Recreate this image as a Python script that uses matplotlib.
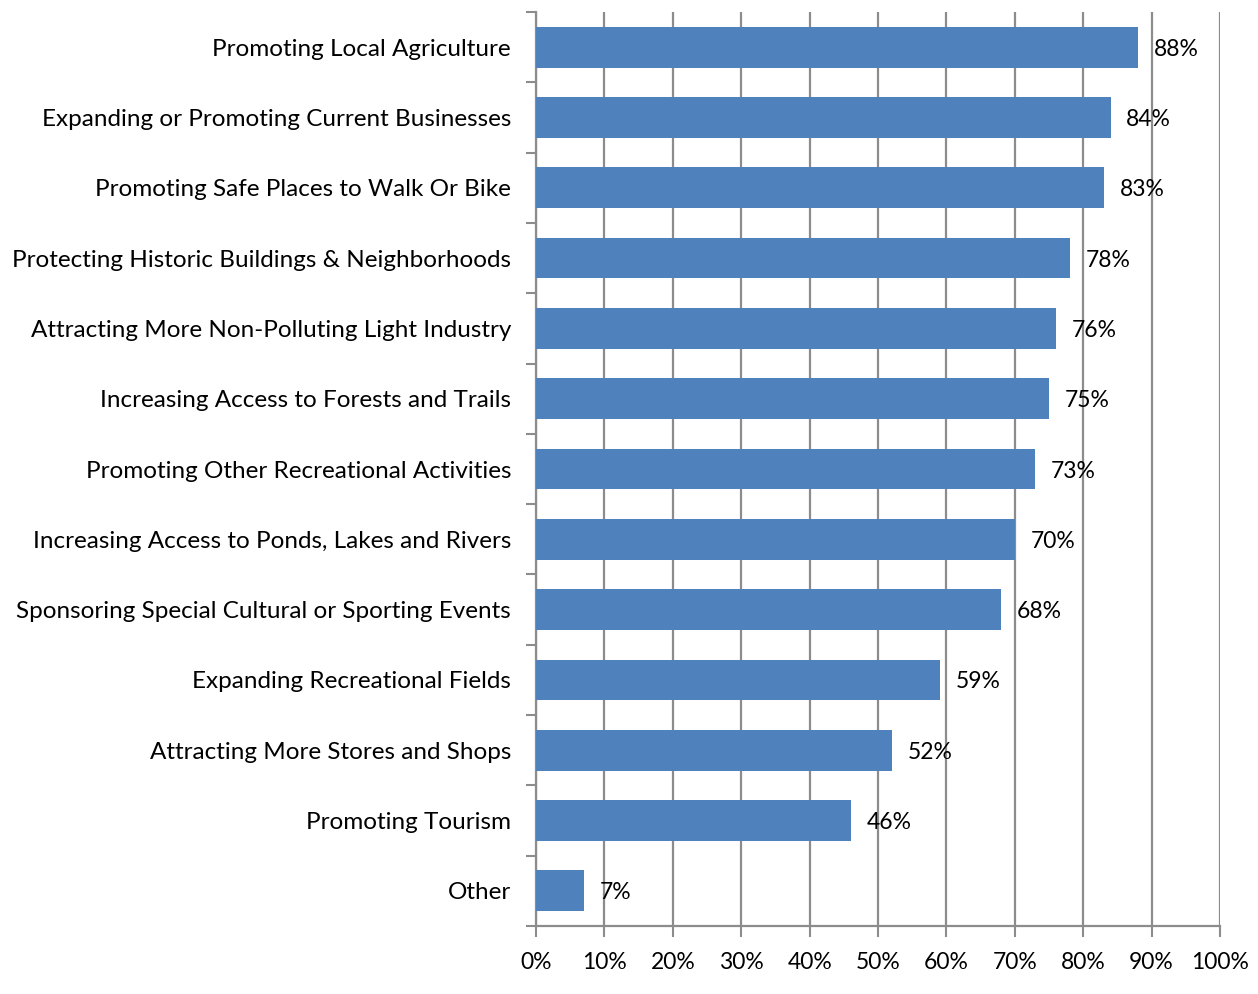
import matplotlib.pyplot as plt
from matplotlib.ticker import FixedLocator, NullFormatter
import numpy as np

plt.rcParams['font.family'] = ['Lato', 'DejaVu Sans']

# survey results, top to bottom
categories = [
    "Promoting Local Agriculture",
    "Expanding or Promoting Current Businesses",
    "Promoting Safe Places to Walk Or Bike",
    "Protecting Historic Buildings & Neighborhoods",
    "Attracting More Non-Polluting Light Industry",
    "Increasing Access to Forests and Trails",
    "Promoting Other Recreational Activities",
    "Increasing Access to Ponds, Lakes and Rivers",
    "Sponsoring Special Cultural or Sporting Events",
    "Expanding Recreational Fields",
    "Attracting More Stores and Shops",
    "Promoting Tourism",
    "Other",
]
values = [88, 84, 83, 78, 76, 75, 73, 70, 68, 59, 52, 46, 7]
x_ticks = [0, 10, 20, 30, 40, 50, 60, 70, 80, 90, 100]

bar_color = "#4F81BD"
grid_color = "#8C8C8C"

fig = plt.figure(figsize=(12.58, 9.94), dpi=100)
ax = fig.add_axes([0.4261, 0.0684, 0.5437, 0.9195])

n = len(categories)
y = np.arange(n)[::-1]
ax.barh(y, values, height=0.58, color=bar_color, zorder=3)

for yi, v in zip(y, values):
    ax.text(v + 2.3, yi, f"{v}%", va='center_baseline', ha='left', fontsize=16.5,
            color='black', zorder=4)

ax.set_xlim(0, 100)
ax.set_ylim(-0.5, n - 0.5)

ax.set_xticks(x_ticks)
ax.set_xticklabels([f"{t}%" for t in x_ticks], fontsize=16.5)

# tick marks at the category boundaries, labels at the centres
ax.yaxis.set_major_locator(FixedLocator(np.arange(n + 1) - 0.5))
ax.yaxis.set_major_formatter(NullFormatter())
ax.yaxis.set_minor_locator(FixedLocator(y))
ax.set_yticklabels(categories, minor=True, fontsize=17.5)
ax.tick_params(axis='y', which='minor', length=0, pad=18)
ax.tick_params(axis='y', which='major', length=7, width=1.5, color=grid_color)
ax.tick_params(axis='x', length=8, width=1.5, color=grid_color, pad=11)

ax.grid(axis='x', color=grid_color, linewidth=1.6, zorder=0)
ax.set_axisbelow(True)

for side in ['top', 'right']:
    ax.spines[side].set_visible(False)
for side in ['left', 'bottom']:
    ax.spines[side].set_color(grid_color)
    ax.spines[side].set_linewidth(1.6)

fig.savefig("out.png", dpi=100)
